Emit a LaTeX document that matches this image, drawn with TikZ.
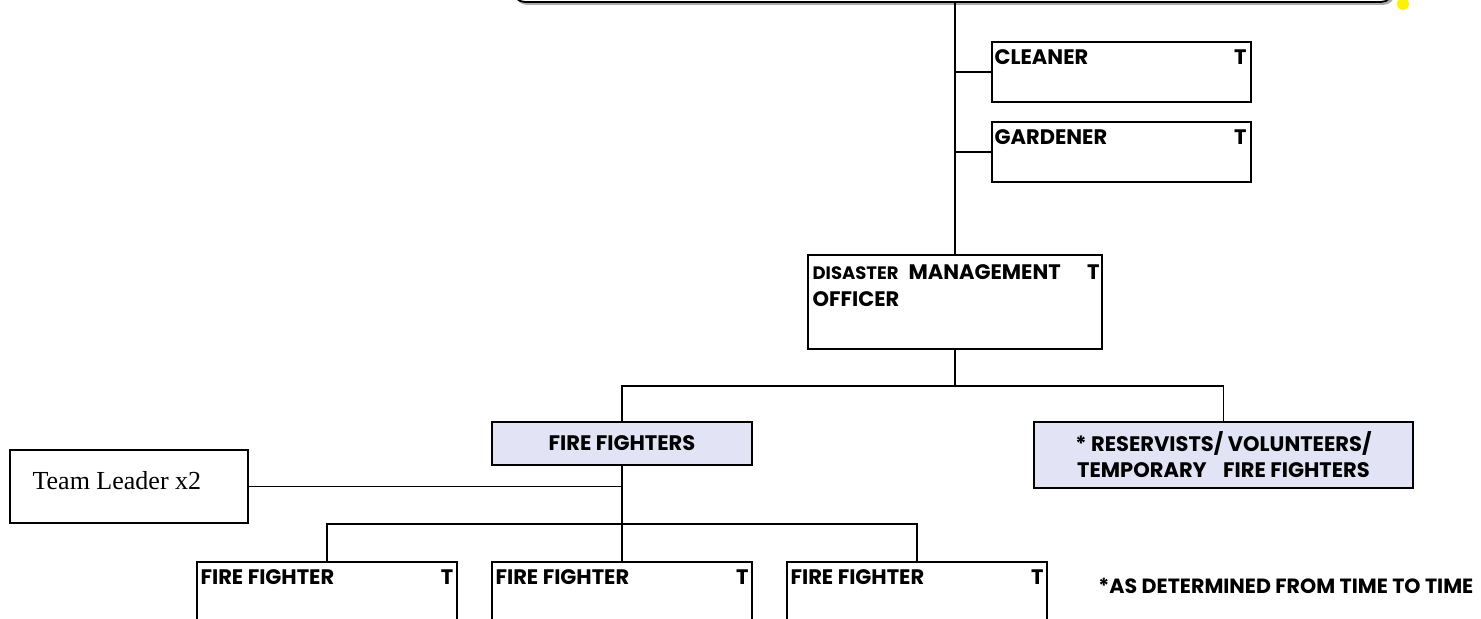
\documentclass[tikz,border=0pt]{standalone}
\usepackage{fontspec}
\newfontfamily\gothic{Poppins}
\newfontfamily\timesfont{Liberation Serif}
\usetikzlibrary{positioning}
\definecolor{boxlav}{RGB}{227,227,246}
\definecolor{shadowgray}{RGB}{170,170,170}

\begin{document}
\begin{tikzpicture}[
    x=0.5pt, y=-0.5pt,
    every node/.style={font=\gothic\bfseries\fontsize{10.5}{12}\selectfont, inner sep=0pt},
    post/.style 2 args={draw=black, line width=0.8pt, fill=white,
        minimum width=#1*0.5pt, minimum height=#2*0.5pt},
    posth/.style 2 args={post={#1}{#2}, fill=boxlav},
    topbox/.style={draw=black, line width=0.9pt, fill=white, rounded corners=6pt,
        minimum width=440pt, minimum height=32pt},
    topsh/.style={fill=shadowgray, rounded corners=6pt,
        minimum width=440pt, minimum height=32pt},
    cn/.style={draw=black, line width=0.9pt},
    note/.style={font=\gothic\bfseries\fontsize{10.3}{12}\selectfont},
]
\useasboundingbox (0,0) rectangle (1481,619);
\clip (0,0) rectangle (1481,619);

% ====== TOP: council box, cut off by the page ======
\node[topsh]  (council-sh) at (955,-27) {};
\node[topbox] (council)    at (953,-30) {};
\fill[yellow] (1403,4) circle[radius=3pt];

% ====== SUPPORT STAFF ======
\node[post={259}{60}] (cleaner)  at (1121.5,72)  {};
\node[post={259}{60}] (gardener) at (1121.5,152) {};
\foreach \b/\t in {cleaner/CLEANER, gardener/GARDENER} {
    \node[anchor=base west] (\b-t) at ([shift={(3,23)}]\b.north west) {\t};
    \node[anchor=base east] (\b-c) at ([shift={(-5,23)}]\b.north east) {T};
}

% ====== DISASTER MANAGEMENT OFFICER ======
\node[post={294}{94}] (dmo) at (955,302) {};
\node[anchor=base west] (dmo-t) at ([shift={(5,25)}]dmo.north west)
    {{\fontsize{9}{10}\selectfont DISASTER}\hspace{5pt}MANAGEMENT};
\node[anchor=base east] (dmo-c) at ([shift={(-3,25)}]dmo.north east) {T};
\node[anchor=base west] (dmo-o) at ([shift={(5,52)}]dmo.north west) {OFFICER};

% ====== FIRE FIGHTERS / RESERVISTS ======
\node[posth={260}{43}] (ff) at (622,443.5) {FIRE FIGHTERS};
\node[posth={379}{66}, align=center,
      font=\gothic\bfseries\fontsize{10.5}{13}\selectfont] (res) at (1223.5,455)
    {* RESERVISTS/ VOLUNTEERS/\\TEMPORARY\hspace{6pt} FIRE FIGHTERS};

% ====== TEAM LEADER ======
\node[post={238}{73}] (tl) at (129,486.5) {};
\node[anchor=base west, font=\timesfont\fontsize{13}{15}\selectfont] (tl-t)
    at ([shift={(23,40)}]tl.north west) {Team Leader x2};

% ====== FIRE FIGHTER POSTS ======
\foreach \i/\x in {1/327, 2/622, 3/917} {
    \node[post={260}{80}] (ff\i) at (\x,602) {};
    \node[anchor=base west] (ff\i-t) at ([shift={(4,23)}]ff\i.north west) {FIRE FIGHTER};
    \node[anchor=base east] (ff\i-c) at ([shift={(-4,23)}]ff\i.north east) {T};
}

% ====== CONNECTORS ======
\draw[cn] (dmo.north |- council.south) -- (dmo.north);
\foreach \b in {cleaner, gardener}
    \draw[cn] (dmo.north |- \b.west) -- (\b.west);
\draw[cn] (dmo.south) -- ++(0,36) coordinate (dmo-j);
\draw[cn] (ff.north) |- (dmo-j) -| (res.north);
\coordinate (ff-j) at (622,524);
\draw[cn] (ff.south) -- (ff2.north);
\draw[cn] (ff1.north) |- (ff-j) -| (ff3.north);
\draw[cn] (tl.east) -- (tl.east -| ff.south);

\node[note, anchor=base west] (note) at (1098,593) {*AS DETERMINED FROM TIME TO TIME};

\end{tikzpicture}
\end{document}
